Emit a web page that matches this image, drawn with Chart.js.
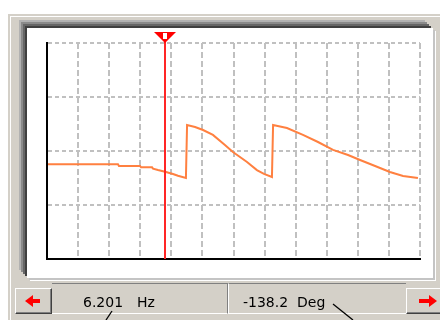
<!DOCTYPE html>
<html>
<head>
<meta charset="utf-8">
<script src="https://cdn.jsdelivr.net/npm/chart.js@4/dist/chart.umd.min.js"></script>
<style>
  html, body { margin: 0; padding: 0; width: 440px; height: 320px; overflow: hidden; background: #fff; }
  .abs { position: absolute; box-sizing: border-box; }
  #face { left: 8px; top: 14px; width: 432px; height: 306px; background: #d4d0c8; }
  #hiV { left: 10px; top: 16px; width: 1px; height: 304px; background: #fff; }
  #hiH { left: 10px; top: 16px; width: 430px; height: 1px; background: #fff; }
  #panel { left: 27px; top: 28px; width: 406px; height: 250px; background: #fff;
    box-shadow: -2px -2px 0 #404040, -4px -4px 0 #666, -6px -6px 0 #8a8a8a, -8px -8px 0 #b2b2b2,
                2px 2px 0 #c4c4c4, 3px 3px 0 #fff; }
  .btn { top: 288px; height: 26px; background: #d4d0c8;
    border-top: 1px solid #fff; border-left: 1px solid #fff;
    border-right: 1px solid #404040; border-bottom: 1px solid #404040;
    box-shadow: inset -1px -1px 0 #808080; }
  #btnL { left: 15px; width: 37px; }
  #btnR { left: 406px; width: 36px; }
  .field { top: 283px; height: 31px; background: #d4d0c8;
    border-top: 1px solid #808080; border-bottom: 1px solid #fff; }
  #f1 { left: 52px; width: 176px; border-right: 1px solid #808080; }
  #f2 { left: 228px; width: 178px; border-left: 1px solid #fff; }
  canvas { position: absolute; left: 0; top: 0; z-index: 2; }
  .txt { position: absolute; z-index: 3; top: 295px; font: 14px/14px "DejaVu Sans", sans-serif;
    color: #000; white-space: pre; }
  svg { position: absolute; left: 0; top: 0; z-index: 4; }
</style>
</head>
<body>
<div class="abs" id="face"></div>
<div class="abs" id="hiV"></div>
<div class="abs" id="hiH"></div>
<div class="abs" id="panel"></div>
<div class="abs field" id="f1"></div>
<div class="abs field" id="f2"></div>
<div class="abs btn" id="btnL"></div>
<div class="abs btn" id="btnR"></div>
<canvas id="c" width="440" height="320"></canvas>
<span class="txt" id="freqVal" style="left:83px"></span>
<span class="txt" id="freqUnit" style="left:137px">Hz</span>
<span class="txt" id="phaseVal" style="left:243px"></span>
<span class="txt" id="phaseUnit" style="left:297px">Deg</span>
<svg width="440" height="320">
  <polygon points="25,301 33,295 33,299 40,299 40,303 33,303 33,307" fill="#ff0000"/>
  <polygon points="437,301 429,295 429,299 419,299 419,303 429,303 429,307" fill="#ff0000"/>
  <line x1="112" y1="311" x2="106" y2="320" stroke="#000" stroke-width="1.3"/>
  <line x1="333" y1="304" x2="353" y2="320" stroke="#000" stroke-width="1.3"/>
</svg>
<script>
// Phase response (wrapped to +/-180 deg) against frequency
const freqHz = [0, 3.73, 3.78, 4.89, 4.94, 5.52, 5.57, 5.83, 6.201, 6.62, 6.88, 7.30,
  7.36, 7.78, 8.20, 8.72, 9.35, 9.77, 10.51, 11.03, 11.40, 11.82,
  11.88, 12.61, 13.45, 14.24, 15.03, 15.82, 16.45, 17.24, 18.02, 18.71, 19.49];
const phaseDeg = [-89, -89, -100, -100, -109, -109, -118, -127, -138.2, -153, -165, -180,
  173, 160, 140, 107, 40, -7, -73, -127, -153, -173,
  173, 153, 107, 60, 7, -27, -60, -100, -140, -167, -180];

// Cursor readout
const cursorHz = 6.201;
const cursorDeg = -138.2;

// Axis ranges (divisions only, no tick labels shown)
const freqRange = [0, 19.6];
const freqDivisions = 12;
const phaseRange = [-720, 720];
const phaseStep = 360;

document.getElementById('freqVal').textContent = cursorHz.toFixed(3);
document.getElementById('phaseVal').textContent = cursorDeg.toFixed(1);

const cursorPlugin = {
  id: 'cursor',
  afterDraw(chart) {
    const { ctx, chartArea, scales } = chart;
    const x = Math.round(scales.x.getPixelForValue(cursorHz));
    ctx.save();
    ctx.fillStyle = '#ff2626';
    ctx.fillRect(x - 1, 40, 2, chartArea.bottom - 40);
    ctx.fillStyle = '#ff0000';
    ctx.beginPath();
    ctx.moveTo(x - 11, 32);
    ctx.lineTo(x + 11, 32);
    ctx.lineTo(x, 43);
    ctx.closePath();
    ctx.fill();
    ctx.fillStyle = '#fff';
    ctx.fillRect(x - 2, 33, 4, 6);
    ctx.restore();
  }
};

new Chart(document.getElementById('c'), {
  type: 'line',
  data: {
    datasets: [{
      data: freqHz.map((f, i) => ({ x: f, y: phaseDeg[i] })),
      borderColor: '#ff8040',
      borderWidth: 2,
      pointRadius: 0,
      tension: 0,
      fill: false
    }]
  },
  options: {
    responsive: false,
    devicePixelRatio: 1,
    animation: false,
    layout: { padding: { left: 47, top: 43, right: 20, bottom: 61 } },
    plugins: { legend: { display: false }, tooltip: { enabled: false } },
    scales: {
      x: {
        type: 'linear',
        min: freqRange[0],
        max: freqRange[1],
        afterBuildTicks(scale) {
          const step = (freqRange[1] - freqRange[0]) / freqDivisions;
          scale.ticks = Array.from({ length: freqDivisions + 1 }, (_, i) => ({ value: freqRange[0] + i * step }));
        },
        ticks: { display: false },
        grid: { color: '#c0c0c0', lineWidth: 2, drawTicks: false, borderDash: [6, 3] },
        border: { display: true, color: '#000', width: 2, dash: [6, 3], z: 1 }
      },
      y: {
        min: phaseRange[0],
        max: phaseRange[1],
        ticks: { display: false, stepSize: phaseStep },
        grid: { color: '#c0c0c0', lineWidth: 2, drawTicks: false, borderDash: [4, 3] },
        border: { display: true, color: '#000', width: 2, dash: [4, 3], z: 1 }
      }
    }
  },
  plugins: [cursorPlugin]
});
</script>
</body>
</html>
